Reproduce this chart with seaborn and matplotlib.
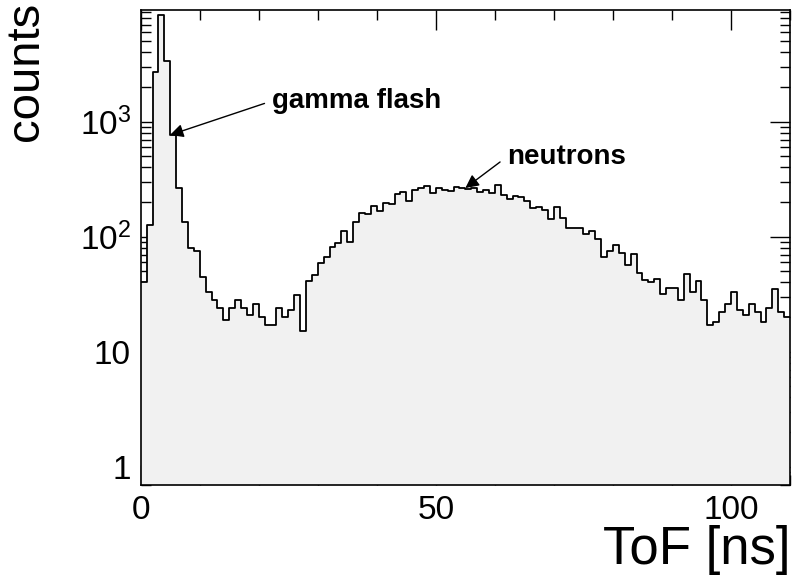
import numpy as np
import pandas as pd
import seaborn as sns
import matplotlib.pyplot as plt
import matplotlib.ticker as mticker

# counts per 1 ns ToF bin (0..110 ns)
counts = [40, 126, 2720, 8470, 3370, 766, 264, 135, 79, 75,
          45, 33, 28, 24, 19, 24, 28, 24, 21, 26,
          20, 17, 17, 24, 20, 23, 31, 15, 41, 46,
          59, 67, 82, 89, 113, 90, 133, 162, 158, 185,
          167, 198, 194, 234, 246, 204, 255, 264, 278, 240,
          264, 256, 251, 272, 264, 258, 264, 246, 255, 238,
          284, 230, 213, 226, 220, 206, 178, 183, 171, 143,
          180, 146, 120, 120, 118, 106, 113, 96, 67, 75,
          85, 72, 57, 71, 48, 42, 40, 43, 32, 36,
          36, 28, 47, 33, 41, 28, 17, 18, 22, 26,
          33, 23, 21, 26, 22, 18, 24, 35, 22, 20]
bin_width = 1.0

x_ticks = [0, 50, 100]
x_tick_labels = ['0', '50', '100']
y_ticks = [1, 10, 100, 1000]
y_tick_labels = ['1', '10', '$10^{2}$', '$10^{3}$']

nbins = len(counts)
df = pd.DataFrame({'tof': (np.arange(nbins) + 0.5) * bin_width, 'counts': counts})

sns.set_style('ticks')
plt.rcParams['font.family'] = ['Liberation Sans', 'DejaVu Sans']
plt.rcParams['mathtext.fontset'] = 'custom'
plt.rcParams['mathtext.rm'] = 'Liberation Sans'
plt.rcParams['mathtext.it'] = 'Liberation Sans:italic'
plt.rcParams['mathtext.bf'] = 'Liberation Sans:bold'
plt.rcParams['text.color'] = 'black'
plt.rcParams['axes.labelcolor'] = 'black'

fig = plt.figure(figsize=(7.94, 5.81), dpi=100)
ax = fig.add_axes([0.1772, 0.1652, 0.8178, 0.8176])

# grey fill, then black step outline
sns.histplot(data=df, x='tof', weights='counts', binwidth=bin_width,
             binrange=(0, nbins * bin_width), element='step',
             fill=True, color='#f1f1f1', alpha=1, linewidth=0, ax=ax)
sns.histplot(data=df, x='tof', weights='counts', binwidth=bin_width,
             binrange=(0, nbins * bin_width), element='step',
             fill=False, color='black', linewidth=1.3, ax=ax)

ax.set_yscale('log')
ax.set_xlim(0, 110)
ax.set_ylim(0.693, 9360)

ax.xaxis.set_major_locator(mticker.FixedLocator(x_ticks))
ax.xaxis.set_major_formatter(mticker.FixedFormatter(x_tick_labels))
ax.xaxis.set_minor_locator(mticker.MultipleLocator(10))
ax.yaxis.set_major_locator(mticker.FixedLocator(y_ticks))
ax.yaxis.set_major_formatter(mticker.FixedFormatter(y_tick_labels))
ax.yaxis.set_minor_locator(mticker.LogLocator(base=10, subs=np.arange(2, 10), numticks=20))
ax.yaxis.set_minor_formatter(mticker.NullFormatter())

ax.tick_params(which='both', direction='in', top=True, right=True,
               width=1, colors='black', labelsize=24)
ax.tick_params(which='major', length=14.4, pad=7)
ax.tick_params(which='minor', length=7.2)
for sp in ax.spines.values():
    sp.set_linewidth(1.2)
    sp.set_color('black')

ax.set_xlabel('ToF [ns]', fontsize=38, loc='right')
ax.set_ylabel('counts', fontsize=34, loc='top')
ax.xaxis.set_label_coords(1.0, -0.085)
ax.yaxis.set_label_coords(-0.142, 1.017)

arrow = dict(arrowstyle='-|>', color='black', lw=1, mutation_scale=20,
             relpos=(0, 0.5), shrinkA=3, shrinkB=0)
ax.annotate('gamma flash', xy=(4.96, 766), xytext=(22.2, 1513),
            fontsize=20, fontweight='bold', ha='left', va='center',
            arrowprops=arrow)
ax.annotate('neutrons', xy=(55.0, 265), xytext=(62.0, 493),
            fontsize=20, fontweight='bold', ha='left', va='center',
            arrowprops=arrow)

fig.savefig('out.png', dpi=100)
